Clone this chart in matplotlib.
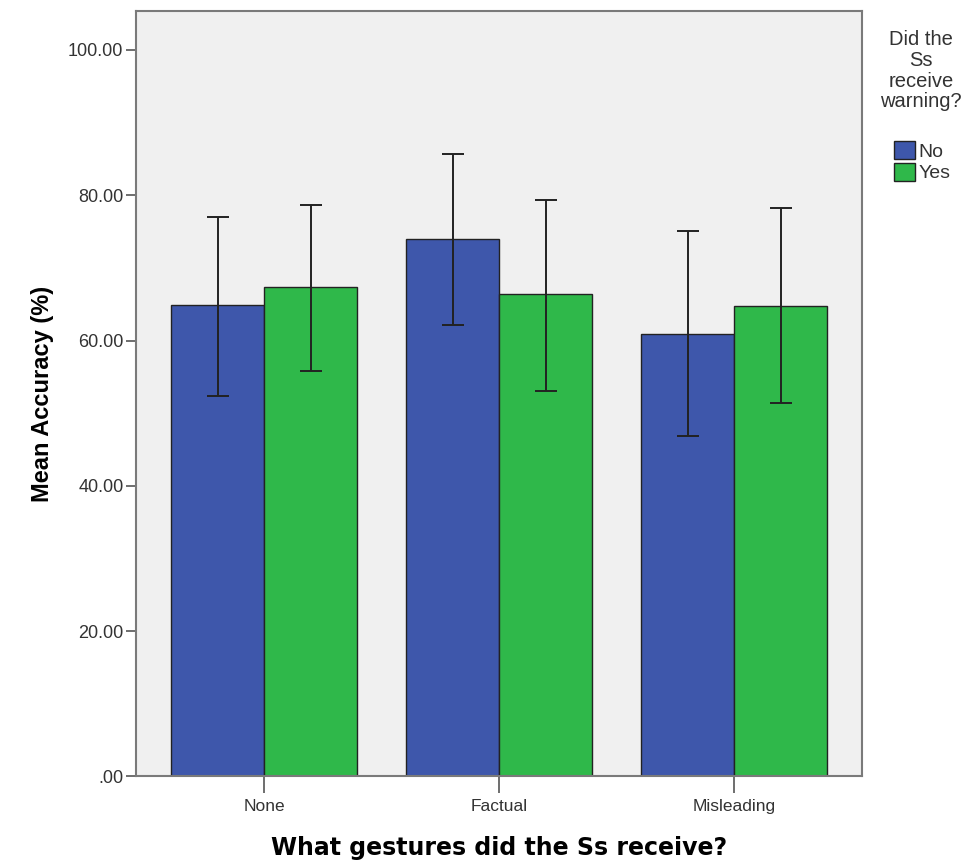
import numpy as np
import matplotlib.pyplot as plt
from matplotlib.patches import Patch

plt.rcParams['font.family'] = ['Liberation Sans', 'DejaVu Sans']

# values
categories = ['None', 'Factual', 'Misleading']
groups = ['No', 'Yes']
means_no = [64.9, 74.0, 60.9]
means_yes = [67.3, 66.4, 64.8]
lo_no = [52.4, 62.1, 46.9]
hi_no = [77.0, 85.7, 75.1]
lo_yes = [55.8, 53.1, 51.4]
hi_yes = [78.6, 79.4, 78.3]
yticks = [0, 20, 40, 60, 80, 100]
ytick_labels = ['.00', '20.00', '40.00', '60.00', '80.00', '100.00']
legend_title = 'Did the\nSs\nreceive\nwarning?'

blue = '#3E57AB'
green = '#2FB84A'

fig = plt.figure(figsize=(9.77, 8.67), dpi=100)
ax = fig.add_axes([0.1392, 0.1044, 0.882 - 0.1392, 0.9877 - 0.1044])
ax.set_facecolor('#F0F0F0')

x = np.arange(len(categories))
w = 0.396
err_no = [np.array(means_no) - np.array(lo_no), np.array(hi_no) - np.array(means_no)]
err_yes = [np.array(means_yes) - np.array(lo_yes), np.array(hi_yes) - np.array(means_yes)]

ekw = dict(ecolor='#222222', elinewidth=1.4, capsize=8, capthick=1.4)
ax.bar(x - w / 2, means_no, w, color=blue, edgecolor='#222222', linewidth=1.0,
       yerr=err_no, error_kw=ekw, label='No')
ax.bar(x + w / 2, means_yes, w, color=green, edgecolor='#222222', linewidth=1.0,
       yerr=err_yes, error_kw=ekw, label='Yes')

ax.set_xlim(-0.546, 2.542)
ax.set_ylim(0, 105.4)
ax.set_xticks(x)
ax.set_xticklabels(categories, fontsize=12.5, color='#333333')
ax.set_yticks(yticks)
ax.set_yticklabels(ytick_labels, fontsize=13, color='#333333')
ax.tick_params(axis='x', length=12, width=1.2, color='#555555', pad=4)
ax.tick_params(axis='y', length=7, width=1.2, color='#555555', pad=2)
for s in ax.spines.values():
    s.set_color('#7a7a7a')
    s.set_linewidth(1.5)

ax.set_xlabel('What gestures did the Ss receive?', fontsize=17, fontweight='bold',
              family='DejaVu Sans', labelpad=16)
ax.set_ylabel('Mean Accuracy (%)', fontsize=17, fontweight='bold', labelpad=10)

# legend title and entries placed separately (title sits well above the boxes)
fig.text(921 / 977, 1 - 30 / 867, legend_title, ha='center', va='top', fontsize=14.5,
         color='#333333', linespacing=1.12, multialignment='center')
handles = [Patch(facecolor=blue, edgecolor='#222222'), Patch(facecolor=green, edgecolor='#222222')]
leg = fig.legend(handles, groups, loc='upper center', bbox_to_anchor=(922 / 977, 1 - 129 / 867),
                 frameon=False, fontsize=14, handlelength=1.1, handleheight=1.1,
                 handletextpad=0.15, labelspacing=0.1, borderpad=0.1)
for t in leg.get_texts():
    t.set_color('#333333')

fig.savefig('out.png', dpi=100)
